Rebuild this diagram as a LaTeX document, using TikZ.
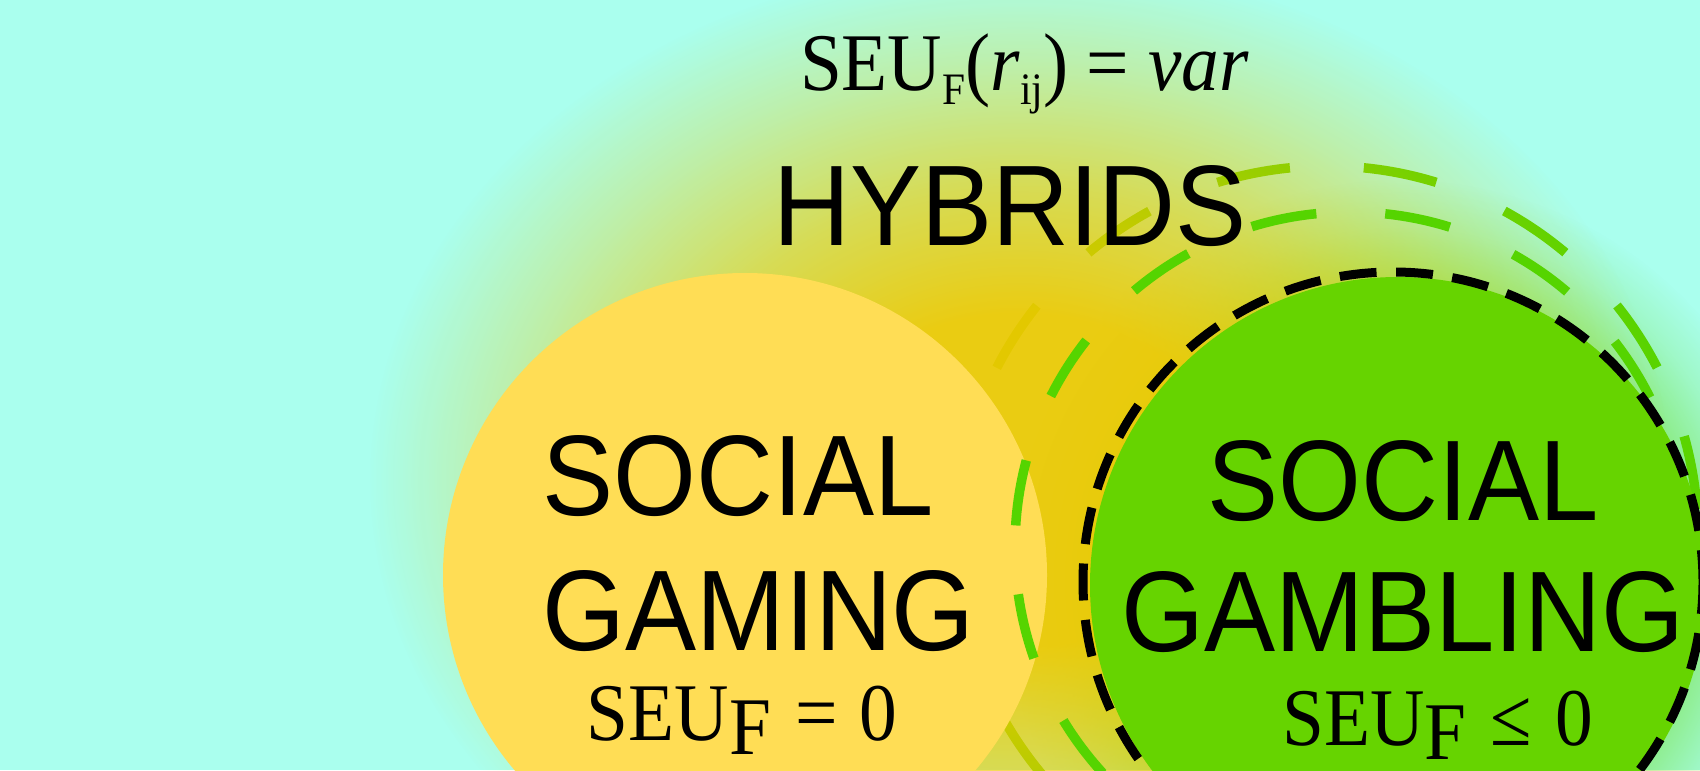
\documentclass[tikz,border=0pt]{standalone}
\usepackage{fontspec}
\usepackage{xcolor}
\usepackage{tikz}
\usetikzlibrary{fadings}
\newfontfamily\labelfont[FakeStretch=0.93]{Liberation Sans}
\newfontfamily\formfont[FakeStretch=0.92]{Liberation Serif}
\definecolor{bgaqua}{HTML}{AAFFEE}
\definecolor{gameyellow}{HTML}{FFDD55}
\definecolor{gambgreen}{HTML}{66D400}
\definecolor{dashgreen}{HTML}{55D400}
\definecolor{glowyellow}{HTML}{F0C800}
\pgfdeclareradialshading{softglowshade}{\pgfpointorigin}{color(0bp)=(black!0); color(8bp)=(black!0); color(14bp)=(black!30); color(20bp)=(black!70); color(25bp)=(black!100); color(50bp)=(black!100)}
\pgfdeclarefading{softglow}{\pgfuseshading{softglowshade}}
\pgfdeclareradialshading{rimglowshade}{\pgfpointorigin}{color(0bp)=(black!0); color(19bp)=(black!0); color(22bp)=(black!60); color(25bp)=(black!100); color(50bp)=(black!100)}
\pgfdeclarefading{rimglow}{\pgfuseshading{rimglowshade}}
\newcommand{\seuF}{SEU\raisebox{-0.18em}{F}}
\newcommand{\subsz}{\fontsize{12.8}{14}\selectfont}

\begin{document}
\begin{tikzpicture}[
    bigtext/.style={font=\labelfont\fontsize{32.6}{38}\selectfont, inner sep=0pt},
    formtext/.style={font=\formfont\fontsize{23.3}{28}\selectfont, inner sep=0pt},
    greenring/.style={dashgreen, line width=0.095cm},
  ]
  \useasboundingbox (0,0) rectangle (17,7.7);
  \clip (0,0) rectangle (17,7.7);
  % Background
  \fill[bgaqua] (0,0) rectangle (17,7.7);
  % Outer ring, lies under the glow
  \draw[greenring, dash pattern=on 0.74cm off 0.74cm, dash phase=1.2cm] (13.27,2.33) circle (3.71);
  % Glow
  \fill[gambgreen, opacity=0.4, path fading=rimglow] (14.0,1.9) circle (4.0);
  \fill[glowyellow, opacity=0.92, path fading=softglow] (10.2,2.9) ellipse (6.5 and 5.2);
  % Social gaming
  \fill[gameyellow] (7.45,1.95) circle (3.02);
  % Inner ring
  \draw[greenring, dash pattern=on 0.66cm off 0.69cm, dash phase=1.15cm] (13.50,2.23) circle (3.35);
  % Social gambling
  \fill[gambgreen] (13.98,1.85) circle (3.08);
  \draw[black, line width=0.09cm, dash pattern=on 0.37cm off 0.195cm, dash phase=0.05cm] (13.93,1.88) circle (3.10);
  % Labels
  \node[formtext, anchor=base] (seuvar) at (10.245,6.79)
    {SEU\raisebox{-0.17em}{\subsz F}(\textit{r}\raisebox{-0.17em}{\subsz ij}) = \textit{var}};
  \node[bigtext, anchor=base] (hybrids) at (10.10,5.25) {HYBRIDS};
  \node[bigtext, anchor=base west] (gamingtop) at (5.42,2.55) {SOCIAL};
  \node[bigtext, anchor=base west] (gamingbot) at (5.42,1.20) {GAMING};
  \node[formtext, anchor=base] (seuzero) at (7.42,0.30) {\seuF\hspace{0.3em}=\hspace{0.26em}0};
  \node[bigtext, anchor=base] (gamblingtop) at (14.03,2.50) {SOCIAL};
  \node[bigtext, anchor=base] (gamblingbot) at (14.03,1.19) {GAMBLING};
  \node[formtext, anchor=base] (seuleq) at (14.38,0.25) {\seuF\hspace{0.29em}≤\hspace{0.29em}0};
\end{tikzpicture}
\end{document}
